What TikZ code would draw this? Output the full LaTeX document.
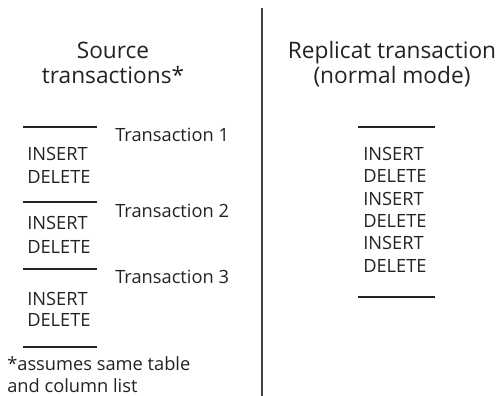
\documentclass[tikz,border=0pt]{standalone}
\usepackage{fontspec}
\setmainfont{Open Sans}
\usepackage{xcolor}
\definecolor{ink}{HTML}{222222}

\begin{document}
\begin{tikzpicture}[x=0.75pt, y=-0.75pt, every node/.style={text=ink, inner sep=0pt, anchor=base west},
    stmt/.style={font=\fontsize{13.7}{16}\selectfont},
    heading/.style={font=\fontsize{17}{19}\selectfont, align=center, anchor=base},
    bar/.style={draw=ink, line width=1.6pt}]
        \useasboundingbox (0,0) rectangle (501,396);

        % column headings
        \node (srctitle) [heading] at (113,84) {Source\\transactions*};
        \node (reptitle) [heading] at (392,84) {Replicat transaction\\(normal mode)};

        % divider
        \draw [ink!85, line width=1.9pt] (262,8) -- (262,396);

        % source side
        \draw [bar] (23,127) -- (97,127);
        \node (tx1) [stmt] at (115,142) {Transaction 1};
        \node (ins1) [stmt] at (27,160) {INSERT};
        \node (del1) [stmt] at (27,183) {DELETE};
        \draw [bar] (23,202) -- (97,202);
        \node (tx2) [stmt] at (115,217) {Transaction 2};
        \node (ins2) [stmt] at (27,229) {INSERT};
        \node (del2) [stmt] at (27,253) {DELETE};
        \draw [bar] (23,269) -- (97,269);
        \node (tx3) [stmt] at (115,283) {Transaction 3};
        \node (ins3) [stmt] at (27,305) {INSERT};
        \node (del3) [stmt] at (27,326) {DELETE};
        \draw [bar] (23,347) -- (97,347);
        \node (note) [stmt, align=left, font=\fontsize{13.7}{16.5}\selectfont] at (7,392) {*assumes same table\\and column list};

        % replicat side
        \draw [bar] (358,127) -- (435,127);
        \node (rins1) [stmt] at (363,160) {INSERT};
        \node (rdel1) [stmt] at (363,182) {DELETE};
        \node (rins2) [stmt] at (363,205) {INSERT};
        \node (rdel2) [stmt] at (363,227) {DELETE};
        \node (rins3) [stmt] at (363,249) {INSERT};
        \node (rdel3) [stmt] at (363,272) {DELETE};
        \draw [bar] (358,297) -- (435,297);
    \end{tikzpicture}
\end{document}
